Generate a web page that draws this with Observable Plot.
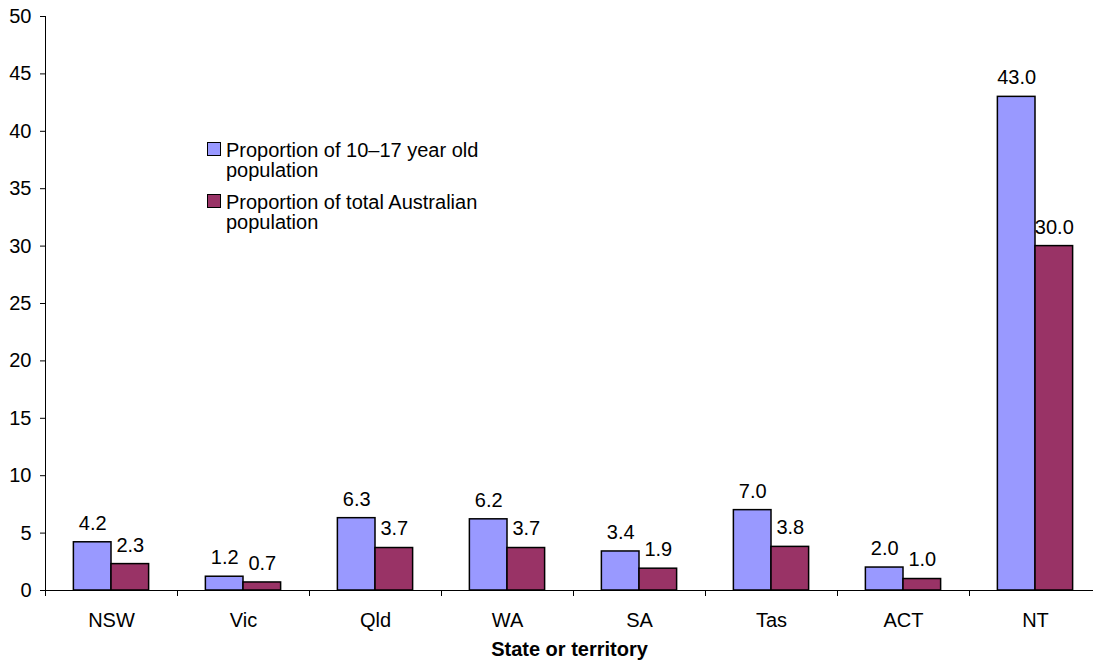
<!DOCTYPE html>
<html>
<head>
<meta charset="utf-8">
<script src="https://cdn.jsdelivr.net/npm/d3@7"></script>
<script src="https://cdn.jsdelivr.net/npm/@observablehq/plot@0.6"></script>
<style>
  html, body { margin: 0; padding: 0; background: #fff; overflow: hidden; }
  #wrap { position: relative; width: 1093px; height: 664px; font-family: "Liberation Sans", Arial, sans-serif; }
  #legend { position: absolute; left: 207px; top: 140px; font-size: 20px; color: #000; }
  .item { display: flex; align-items: flex-start; margin-bottom: 12px; }
  .sw { width: 12px; height: 12px; border: 1.5px solid #000; margin-top: 2px; margin-right: 5px; flex: none; }
  .lbl { line-height: 20px; }
  svg { overflow: visible; }
</style>
</head>
<body>
<div id="wrap"></div>
<script>
const states = ["NSW", "Vic", "Qld", "WA", "SA", "Tas", "ACT", "NT"];
const seriesNames = ["Proportion of 10–17 year old population", "Proportion of total Australian population"];
const youthValues = [4.2, 1.2, 6.3, 6.2, 3.4, 7.0, 2.0, 43.0];
const totalValues = [2.3, 0.7, 3.7, 3.7, 1.9, 3.8, 1.0, 30.0];
const colors = ["#9999FF", "#993366"];
const yTicks = [0, 5, 10, 15, 20, 25, 30, 35, 40, 45, 50];

const W = 1093, H = 664;
const mL = 45, mT = 16, mB = 74;
const step = 132; // category band width
const xRange = [mL, mL + step * states.length];
const barW = step * 0.285;
const gap = step / 2 - barW;

const youth = states.map((s, i) => ({state: s, value: youthValues[i]}));
const total = states.map((s, i) => ({state: s, value: totalValues[i]}));

const font = "Liberation Sans, Arial, sans-serif";
const fs = 20;

const chart = Plot.plot({
  width: W, height: H,
  marginLeft: mL, marginRight: 0, marginTop: mT, marginBottom: mB,
  style: {fontFamily: font, fontSize: fs + "px", color: "#000", background: "#fff"},
  x: {domain: states, range: xRange, padding: 0},
  y: {domain: [0, 50]},
  marks: [
    Plot.barY(youth, {x: "state", y: "value", fill: colors[0], stroke: "#000", strokeWidth: 1.5,
      insetLeft: gap, insetRight: step / 2}),
    Plot.barY(total, {x: "state", y: "value", fill: colors[1], stroke: "#000", strokeWidth: 1.5,
      insetLeft: step / 2, insetRight: gap}),
    Plot.text(youth, {x: "state", y: "value", text: d => d.value.toFixed(1), dx: -(barW / 2), dy: -19,
      fontSize: fs, fill: "#000"}),
    Plot.text(total, {x: "state", y: "value", text: d => d.value.toFixed(1), dx: barW / 2, dy: -19,
      fontSize: fs, fill: "#000"}),
    Plot.axisY({ticks: yTicks, tickSize: 5, tickPadding: 9, label: null, fontSize: fs, stroke: "#000"}),
    Plot.axisX({tickSize: 0, tickPadding: 22, label: null, fontSize: fs}),
    Plot.ruleX(states, {x: d => d, dx: -step / 2, y1: 0, y2: 0, insetBottom: -6, stroke: "#000"}),
    Plot.ruleX([0], {x: () => states[0], dx: -step / 2, y1: 0, y2: 50, stroke: "#000"}),
    Plot.ruleY([0], {stroke: "#000"}),
    Plot.text(["State or territory"], {frameAnchor: "bottom", dy: 65, fontWeight: "bold", fontSize: fs, fill: "#000"})
  ]
});

const wrap = document.getElementById("wrap");
wrap.appendChild(chart);

const legend = document.createElement("div");
legend.id = "legend";
const lines = [["Proportion of 10–17 year old", "population"], ["Proportion of total Australian", "population"]];
lines.forEach((ls, i) => {
  const it = document.createElement("div");
  it.className = "item";
  const sw = document.createElement("div");
  sw.className = "sw";
  sw.style.background = colors[i];
  const lb = document.createElement("div");
  lb.className = "lbl";
  lb.innerHTML = ls.join("<br>");
  it.appendChild(sw); it.appendChild(lb);
  legend.appendChild(it);
});
wrap.appendChild(legend);
</script>
</body>
</html>
